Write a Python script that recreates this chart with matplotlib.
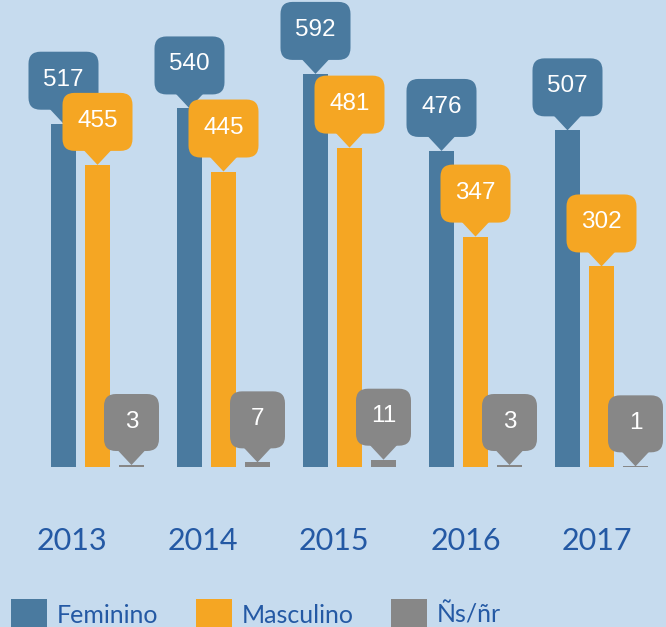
import matplotlib
matplotlib.use("Agg")
import matplotlib.pyplot as plt
from matplotlib.patches import FancyBboxPatch, Polygon, Patch
from matplotlib.transforms import ScaledTranslation
import numpy as np

years = ["2013", "2014", "2015", "2016", "2017"]
feminino = [517, 540, 592, 476, 507]
masculino = [455, 445, 481, 347, 302]
nsnr = [3, 7, 11, 3, 1]
series_names = ["Feminino", "Masculino", "Ñs/ñr"]

BG = "#c6dbee"
C_F = "#4a7a9f"
C_M = "#f5a623"
C_N = "#878787"
TXT = "#2459a4"

W, H, DPI = 666, 627, 100
fig = plt.figure(figsize=(W / DPI, H / DPI), dpi=DPI, facecolor=BG)

base_px = 160  # baseline from bottom
ax = fig.add_axes([0, base_px / H, 1, 1 - base_px / H])
ax.set_facecolor(BG)
px_per_unit_x = 126.0
x0 = -63.5 / px_per_unit_x
ax.set_xlim(x0, x0 + W / px_per_unit_x)
ax.set_ylim(0, (H - base_px) / 0.664)
for s in ax.spines.values():
    s.set_visible(False)
ax.tick_params(left=False, labelleft=False, length=0)

idx = np.arange(len(years))
bw = 25 / px_per_unit_x
off = 34 / px_per_unit_x
ax.bar(idx, feminino, width=bw, color=C_F, zorder=2)
ax.bar(idx + off, masculino, width=bw, color=C_M, zorder=2)
ax.bar(idx + 2 * off, nsnr, width=bw, color=C_N, zorder=2)

label_pos = idx * 1.04 + 0.07
ax.set_xticks(label_pos)
ax.set_xticklabels(years, fontsize=22, color=TXT, family="Lato")
ax.tick_params(axis="x", pad=43)


def callout(x, y, text, color, bw_px, bh_px, z):
    tr = fig.dpi_scale_trans + ScaledTranslation(x, y, ax.transData)
    ph = 14 / DPI
    bwi = bw_px / DPI
    bhi = bh_px / DPI
    r = 12 / DPI
    box = FancyBboxPatch((-bwi / 2, ph), bwi, bhi,
                         boxstyle=f"round,pad=0,rounding_size={r}",
                         transform=tr, facecolor=color, edgecolor="none",
                         zorder=z, clip_on=False)
    tri = Polygon([(-14 / DPI, ph + 1 / DPI), (14 / DPI, ph + 1 / DPI), (0, 0)],
                  closed=True, transform=tr, facecolor=color,
                  edgecolor="none", zorder=z, clip_on=False)
    ax.add_patch(box)
    ax.add_patch(tri)
    ax.text(0, ph + bhi / 2 + 1 / DPI, text, transform=tr, ha="center",
            va="center", color="white", fontsize=17.5,
            family="Liberation Sans", zorder=z + 0.1, clip_on=False)


for i in idx:
    callout(i, feminino[i], str(feminino[i]), C_F, 70, 58, 3)
for i in idx:
    callout(i + off, masculino[i], str(masculino[i]), C_M, 70, 58, 4)
for i in idx:
    callout(i + 2 * off, nsnr[i], str(nsnr[i]), C_N, 55, 57, 5)

fs = 18
pt_per_px = 72 / DPI
handles = [Patch(facecolor=c, edgecolor="none") for c in (C_F, C_M, C_N)]
leg = fig.legend(handles, series_names, loc="lower left",
                 bbox_to_anchor=(11 / W, -2 / H), ncol=3, frameon=False,
                 prop={"family": "Lato", "size": fs},
                 handlelength=36 * pt_per_px / fs, handleheight=36 * pt_per_px / fs,
                 handletextpad=10 * pt_per_px / fs,
                 columnspacing=37 * pt_per_px / fs, borderpad=0,
                 borderaxespad=0)
for t in leg.get_texts():
    t.set_color(TXT)

fig.savefig("out.png", dpi=DPI, facecolor=BG)
